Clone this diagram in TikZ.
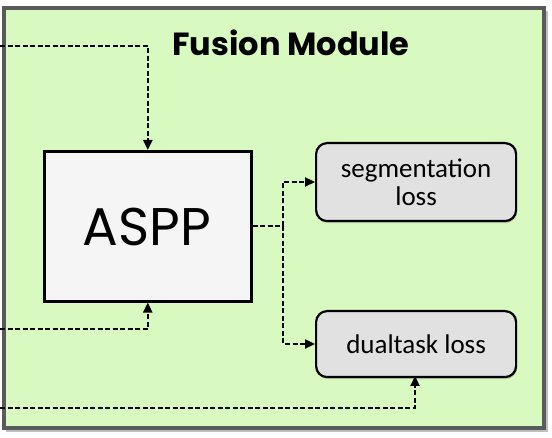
\documentclass[tikz,border=0pt]{standalone}
\usepackage{fontspec}
\setmainfont{Carlito}
\newfontfamily\gothic{Poppins}
\usetikzlibrary{arrows.meta,shadows,calc}
\definecolor{modgreen}{HTML}{D8F9C0}
\definecolor{framegray}{HTML}{5A5A5A}
\definecolor{asppfill}{HTML}{F5F5F5}
\definecolor{lossfill}{HTML}{E1E1E1}
\tikzset{
  link/.style={draw=black, line width=2.3pt, dash pattern=on 5pt off 2.5pt, -{Triangle[length=10pt,width=9pt]}},
  plain/.style={draw=black, line width=2.3pt, dash pattern=on 5pt off 2.5pt},
  lossbox/.style={draw=black, line width=2.2pt, fill=lossfill, rounded corners=11pt, minimum width=200pt, align=center, inner sep=0pt, font=\fontsize{27}{31}\selectfont, drop shadow={shadow xshift=1pt, shadow yshift=-2pt, opacity=0.35}},
}
\begin{document}
\begin{tikzpicture}[x=1pt,y=-1pt]
\useasboundingbox (0,0) rectangle (552,438);
% frame
\fill[black!25] (6,11) rectangle (548,432);
\draw[fill=modgreen, draw=framegray, line width=4.5pt] (4,8) rectangle (544,428);
\node[font=\gothic\bfseries\fontsize{32}{36}\selectfont, anchor=base] (title) at (291,56) {Fusion Module};
% ASPP
\node[draw=black, line width=2.6pt, fill=asppfill, minimum width=207pt, minimum height=150pt, inner sep=0pt, anchor=north west,
  drop shadow={shadow xshift=1pt, shadow yshift=-2pt, opacity=0.35}] (aspp) at (43,150) {};
\node[font=\gothic\fontsize{53}{60}\selectfont, anchor=base] (aspptxt) at (147,246) {ASPP};
% loss boxes
\node[lossbox, minimum height=78pt, anchor=north west] (seg) at (315,142) {segmentation\\[-3pt]loss};
\node[lossbox, minimum height=66pt, anchor=north west] (dual) at (315,310) {dualtask loss};
% input coordinates
\coordinate (in1) at (0,46);
\coordinate (in2) at (0,329);
\coordinate (in3) at (0,408);
\coordinate (split) at (283,226);
% connectors
\draw[link] (in1) -| ($(aspp.north west)!0.5!(aspp.north east)$);
\draw[link] (in2) -| (aspp.south);
\draw[link] (in3) -| (415,376);
\draw[plain] (aspp.east |- split) -- (split);
\draw[link] (split) |- (seg.west |- 0,182);
\draw[link] (split) |- (dual.west |- 0,344);
\end{tikzpicture}
\end{document}
